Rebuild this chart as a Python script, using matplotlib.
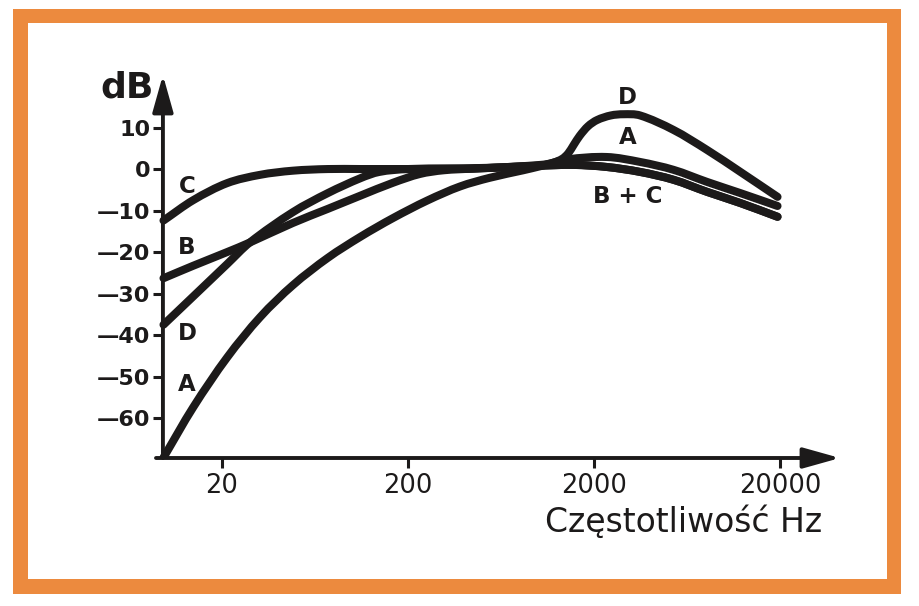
import matplotlib
matplotlib.use("Agg")
import matplotlib.pyplot as plt
import numpy as np
from matplotlib.patches import Rectangle, PathPatch
from matplotlib.path import Path

# weighting curves (Hz, dB)
freq_a = [9.7, 14, 21.3, 32, 48, 74, 111, 166, 253, 380, 550, 830, 1030, 1430, 2330, 3530, 5340, 8070, 12200, 19300]
db_a = [-69.5, -57.4, -45.4, -35.7, -28.0, -21.4, -16.3, -11.8, -7.6, -4.2, -2.1, -0.3, 0.7, 2.3, 2.9, 1.7, -0.2, -3.1, -5.8, -8.9]

freq_b = [9.7, 14, 21.3, 28.2, 48, 74, 111, 166, 231, 310, 450, 1030, 1540, 2330, 3530, 5340, 8070, 12200, 19300]
db_b = [-26.3, -23.3, -20.0, -17.7, -13.0, -9.6, -6.4, -3.3, -1.2, -0.3, 0.1, 0.8, 1.0, 0.5, -0.7, -2.6, -5.5, -8.2, -11.5]

freq_c = [9.7, 14, 21.3, 32, 48, 74, 111, 231, 310, 450, 1030, 1540, 2330, 3530, 5340, 8070, 12200, 19300]
db_c = [-12.4, -7.5, -3.4, -1.4, -0.4, 0.0, 0.0, 0.0, 0.0, 0.1, 0.8, 1.0, 0.5, -0.7, -2.6, -5.5, -8.2, -11.5]

freq_d = [9.7, 14, 21.3, 28.2, 48, 74, 111, 140, 200, 550, 1030, 1200, 1350, 1450, 1550, 1670, 1850,
          2070, 2450, 2870, 3530, 5340, 8070, 12200, 19300]
db_d = [-37.5, -30.7, -22.9, -17.7, -10.4, -5.8, -2.2, -0.7, 0.0, 0.3, 1.0, 1.5, 2.5, 3.8, 5.8, 8.0, 10.3,
        11.8, 12.9, 13.2, 12.9, 9.4, 4.6, -0.7, -6.7]

x_ticks = [20, 200, 2000, 20000]
y_ticks = [10, 0, -10, -20, -30, -40, -50, -60]
y_labels = ["10", "0", "\u201410", "\u201420", "\u201430", "\u201440", "\u201450", "\u201460"]

ink = "#1c1a1a"
orange = "#ec8a3e"
W, H = 920, 606


def smooth_path(freq, db):
    # cubic Hermite segments in log-frequency space, drawn as Bezier curves
    lx = np.log10(freq)
    y = np.asarray(db, dtype=float)
    n = len(lx)
    m = np.empty(n)
    m[0] = (y[1] - y[0]) / (lx[1] - lx[0])
    m[-1] = (y[-1] - y[-2]) / (lx[-1] - lx[-2])
    m[1:-1] = (y[2:] - y[:-2]) / (lx[2:] - lx[:-2])
    verts = [(freq[0], y[0])]
    codes = [Path.MOVETO]
    for i in range(n - 1):
        h = lx[i + 1] - lx[i]
        verts += [(10 ** (lx[i] + h / 3), y[i] + m[i] * h / 3),
                  (10 ** (lx[i + 1] - h / 3), y[i + 1] - m[i + 1] * h / 3),
                  (freq[i + 1], y[i + 1])]
        codes += [Path.CURVE4] * 3
    return Path(verts, codes)


fig = plt.figure(figsize=(9.2, 6.06), dpi=100)
fig.patch.set_facecolor("white")

# orange frame
fig.patches.append(Rectangle((13 / W, 1 - 594 / H), 888 / W, 585 / H,
                             transform=fig.transFigure, facecolor=orange, edgecolor="none", zorder=-2))
fig.patches.append(Rectangle((28 / W, 1 - 579 / H), 859 / W, 556 / H,
                             transform=fig.transFigure, facecolor="white", edgecolor="none", zorder=-1))

ax = fig.add_axes([156 / W, 1 - 458 / H, (840 - 156) / W, (458 - 75) / H])
ax.set_zorder(2)
ax.set_facecolor("none")
ax.set_xscale("log")
ax.set_xlim(8.84, 41800)
ax.set_ylim(-69.6, 22.65)

for s in ax.spines.values():
    s.set_visible(False)
ax.spines["left"].set_position(("data", 9.63))

for f, d in [(freq_a, db_a), (freq_b, db_b), (freq_c, db_c), (freq_d, db_d)]:
    ax.add_patch(PathPatch(smooth_path(f, d), fill=False, edgecolor=ink, lw=5.8,
                           capstyle="round", joinstyle="round", zorder=3))

# axes with arrows
arrow = dict(arrowstyle="-|>,head_length=1.5,head_width=0.42", color=ink, lw=2.8,
             shrinkA=0, shrinkB=0, mutation_scale=15)
ax.annotate("", xy=(9.63, 22.65), xytext=(9.63, -69.6), arrowprops=arrow, zorder=4,
            annotation_clip=False)
ax.annotate("", xy=(41800, -69.6), xytext=(8.84, -69.6), arrowprops=arrow, zorder=4,
            annotation_clip=False)

ax.set_xticks(x_ticks)
ax.set_xticklabels([str(t) for t in x_ticks])
ax.xaxis.set_minor_locator(matplotlib.ticker.NullLocator())
ax.set_yticks(y_ticks)
ax.set_yticklabels(y_labels)
ax.tick_params(axis="x", direction="out", length=7, width=2.2, color=ink, pad=4,
               labelsize=18.5, labelcolor=ink)
ax.tick_params(axis="y", direction="out", length=7, width=2.2, color=ink, pad=2,
               labelsize=16, labelcolor=ink)
for t in ax.get_yticklabels():
    t.set_fontfamily("DejaVu Sans")
    t.set_fontweight("bold")
for t in ax.get_xticklabels():
    t.set_fontfamily("DejaVu Sans")

# curve labels
lab = dict(fontsize=16.5, fontweight="bold", color=ink, ha="center", va="center",
           family="DejaVu Sans")
ax.text(13.0, -4.1, "C", **lab)
ax.text(12.9, -19.0, "B", **lab)
ax.text(13.0, -39.7, "D", **lab)
ax.text(12.9, -52.0, "A", **lab)
ax.text(3012, 17.3, "D", **lab)
ax.text(3012, 7.5, "A", **lab)
ax.text(3012, -6.5, "B + C", **lab)

fig.text(127 / W, 1 - 88 / H, "dB", fontsize=26, fontweight="bold", color=ink,
         ha="center", va="center", family="DejaVu Sans")
fig.text(822 / W, 1 - 522 / H, "Częstotliwość Hz", fontsize=23.8, color=ink,
         ha="right", va="center", family="DejaVu Sans")

fig.savefig("out.png", dpi=100, facecolor="white")
